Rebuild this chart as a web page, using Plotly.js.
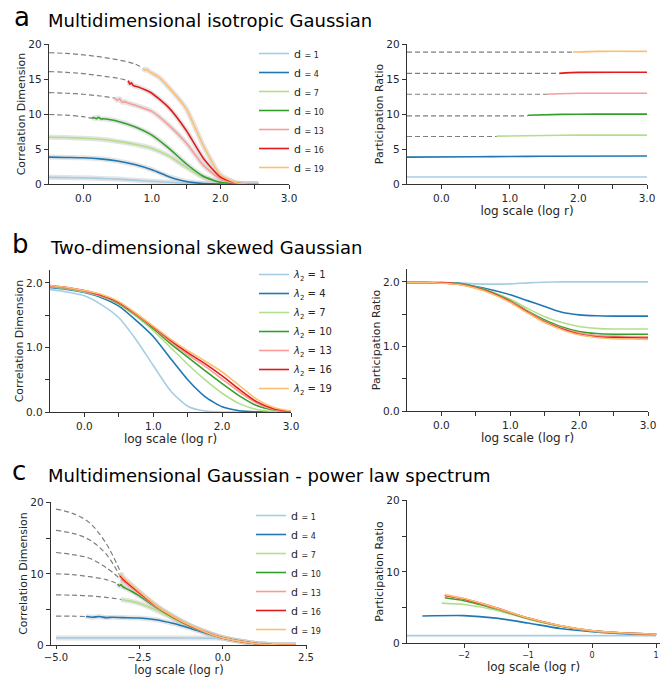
<!DOCTYPE html>
<html>
<head>
<meta charset="utf-8">
<script src="https://cdn.plot.ly/plotly-3.0.1.min.js"></script>
<style>html,body{margin:0;padding:0;background:#fff;}#chart{width:668px;height:677px;}</style>
</head>
<body>
<div id="chart"></div>
<script>
// ---------- DATA ----------
const dims = [1, 4, 7, 10, 13, 16, 19];
const lambdas = [1, 4, 7, 10, 13, 16, 19];

// Panel a (left): correlation dimension vs log r, isotropic Gaussian
const aCD_x = [
  [-0.5,-0.25,0,0.25,0.5,0.75,1.0,1.25,1.5,1.75,2.0,2.55],
  [-0.5,-0.25,0,0.25,0.5,0.75,1.0,1.25,1.5,1.75,2.0,2.55],
  [-0.5,-0.25,0,0.25,0.5,0.75,1.0,1.25,1.5,1.75,2.0,2.25,2.55],
  [0.12,0.16,0.19,0.22,0.26,0.3,0.4,0.5,0.75,1.0,1.25,1.5,1.75,2.0,2.25,2.55],
  [0.46,0.5,0.53,0.57,0.6,0.65,0.75,1.0,1.25,1.5,1.75,2.0,2.25,2.55],
  [0.655,0.68,0.7,0.73,0.76,0.8,0.9,1.0,1.25,1.5,1.75,2.0,2.25,2.55],
  [0.87,0.9,0.93,0.96,1.0,1.1,1.25,1.5,1.75,2.0,2.25,2.55]
];
const aCD_y = [
  [0.95,0.92,0.88,0.8,0.7,0.55,0.4,0.24,0.1,0.03,0.01,0],
  [3.85,3.8,3.75,3.6,3.3,2.8,2.05,1.05,0.35,0.07,0.01,0],
  [6.7,6.65,6.55,6.4,6.1,5.7,5.1,4.0,2.4,0.95,0.25,0.03,0],
  [9.4,9.5,9.35,9.55,9.3,9.35,9.2,9.0,8.2,7.0,5.1,2.9,1.1,0.25,0.03,0],
  [12.3,12.0,12.2,11.7,11.8,11.6,11.3,10.4,8.4,5.9,2.7,0.7,0.08,0],
  [14.8,14.3,14.5,14.1,14.0,13.9,13.5,13.0,10.9,7.7,3.7,1.0,0.1,0],
  [16.6,16.3,16.4,16.1,15.9,15.3,13.8,10.8,5.5,1.3,0.12,0]
];
// Panel a (left): dashed extrapolations (d = 10, 13, 16, 19)
const aExt_x = [
  [-0.5,-0.25,0,0.12],
  [-0.5,-0.25,0,0.25,0.46],
  [-0.5,-0.25,0,0.25,0.5,0.655],
  [-0.5,-0.25,0,0.25,0.5,0.75,0.87]
];
const aExt_y = [
  [9.95,9.85,9.65,9.4],
  [13.1,13.0,12.85,12.6,12.3],
  [16.1,16.0,15.8,15.5,15.15,14.8],
  [18.8,18.7,18.5,18.2,17.8,17.2,16.6]
];

// Panel a (right): participation ratio
const aPR_x = [
  [-0.5,3.0],
  [-0.5,0.5,1.0,1.5,3.0],
  [0.81,1.5,2.0,3.0],
  [1.26,1.75,2.25,3.0],
  [1.55,2.0,3.0],
  [1.72,2.0,3.0],
  [1.92,2.3,3.0]
];
const aPR_y = [
  [1.0,1.0],
  [3.85,3.9,3.93,3.98,4.0],
  [6.85,6.95,7.0,7.0],
  [9.85,9.97,10.0,10.0],
  [12.88,13.0,13.0],
  [15.85,15.98,16.0],
  [18.9,19.0,19.0]
];
// dashed extensions for d = 7..19
const aPRExt_x = [[-0.5,0.81],[-0.5,1.26],[-0.5,1.55],[-0.5,1.72],[-0.5,1.92]];
const aPRExt_y = [[6.8,6.8],[9.75,9.75],[12.85,12.85],[15.85,15.85],[18.9,18.9]];

// Panel b: two-dimensional skewed Gaussian
const bX = [-0.5,-0.25,0,0.25,0.5,0.75,1.0,1.25,1.5,1.75,2.0,2.25,2.5,2.75,3.0];
const bCD_y = [
  [1.9,1.86,1.8,1.66,1.46,1.12,0.72,0.33,0.09,0.015,0,0,0,0,0],
  [1.93,1.9,1.85,1.77,1.64,1.42,1.17,0.83,0.5,0.24,0.08,0.02,0.003,0,0],
  [1.94,1.91,1.86,1.79,1.67,1.48,1.26,1.0,0.74,0.5,0.29,0.13,0.04,0.01,0],
  [1.95,1.92,1.87,1.8,1.68,1.5,1.29,1.06,0.85,0.64,0.44,0.25,0.1,0.03,0.005],
  [1.95,1.92,1.87,1.8,1.69,1.51,1.31,1.09,0.89,0.71,0.51,0.31,0.14,0.04,0.01],
  [1.96,1.93,1.88,1.81,1.7,1.52,1.32,1.11,0.92,0.75,0.56,0.35,0.16,0.05,0.01],
  [1.96,1.93,1.88,1.82,1.71,1.53,1.33,1.13,0.95,0.79,0.62,0.41,0.2,0.07,0.015]
];
const bPR_y = [
  [1.99,1.99,1.99,1.985,1.97,1.965,1.97,1.985,1.995,2.0,2.0,2.0,2.0,2.0,2.0],
  [1.99,1.99,1.99,1.98,1.93,1.87,1.8,1.71,1.62,1.53,1.49,1.475,1.47,1.47,1.47],
  [1.99,1.99,1.985,1.97,1.92,1.84,1.73,1.59,1.46,1.37,1.31,1.28,1.27,1.27,1.27],
  [1.99,1.99,1.985,1.97,1.92,1.83,1.71,1.55,1.41,1.3,1.23,1.2,1.19,1.19,1.19],
  [1.99,1.99,1.985,1.965,1.91,1.82,1.7,1.54,1.39,1.28,1.21,1.17,1.16,1.155,1.15],
  [1.99,1.99,1.985,1.965,1.91,1.82,1.69,1.53,1.38,1.27,1.19,1.15,1.14,1.135,1.13],
  [1.99,1.99,1.98,1.96,1.9,1.81,1.68,1.52,1.37,1.26,1.18,1.14,1.12,1.115,1.11]
];

// Panel c (left): power-law spectrum, correlation dimension
const cTailX = [-0.5,0,0.5,1.0,1.5,2.2];
const cCD_x = [
  [-5,-4,-3,-2,-1],
  [-4.1,-3.9,-3.7,-3.5,-3.3,-3.0,-2.5,-2.0,-1.5,-1.0],
  [-3.05,-2.8,-2.5,-2.0,-1.5,-1.0],
  [-3.15,-3.1,-3.05,-3.0,-2.75,-2.5,-2.0,-1.5,-1.0],
  [-3.05,-3.0,-2.75,-2.5,-2.0,-1.5,-1.0],
  [-3.08,-3.0,-2.75,-2.5,-2.0,-1.5,-1.0],
  [-3.05,-3.0,-2.75,-2.5,-2.0,-1.5,-1.0]
];
const cCD_y = [
  [1.0,1.0,1.0,1.0,0.99],
  [4.0,3.9,4.0,3.85,3.9,3.85,3.8,3.55,3.05,2.4],
  [6.4,6.2,5.85,4.9,3.75,2.65],
  [8.6,8.3,8.5,8.2,7.6,6.9,5.3,3.9,2.7],
  [9.2,9.0,8.1,7.2,5.4,4.0,2.75],
  [9.7,9.3,8.3,7.35,5.5,4.0,2.75],
  [10.1,9.6,8.5,7.5,5.55,4.05,2.8]
];
const cTail_y = [
  [0.97,0.93,0.6,0.2,0.04,0],
  [1.65,1.0,0.55,0.2,0.04,0],
  [1.75,1.0,0.55,0.2,0.04,0],
  [1.75,1.0,0.55,0.2,0.04,0],
  [1.8,1.0,0.55,0.2,0.04,0],
  [1.8,1.0,0.55,0.2,0.04,0],
  [1.8,1.0,0.55,0.2,0.04,0]
];
// dashed extrapolations d = 4..19
const cExt_x = [
  [-5,-4.5,-4.1],
  [-5,-4.5,-4,-3.5,-3.05],
  [-5,-4.5,-4,-3.5,-3.15],
  [-5,-4.5,-4,-3.5,-3.05],
  [-5,-4.5,-4,-3.5,-3.08],
  [-5,-4.5,-4,-3.5,-3.05]
];
const cExt_y = [
  [4.05,4.05,4.0],
  [7.05,7.0,6.9,6.7,6.4],
  [10.0,9.9,9.6,9.2,8.6],
  [13.0,12.7,12.2,10.9,9.2],
  [16.1,15.7,14.8,12.8,9.7],
  [19.1,18.5,17.2,14.3,10.1]
];

// Panel c (right): participation ratio
const cPR_x = [
  [-2.89,1.0],
  [-2.65,-2.0,-1.5,-1.0,-0.5,0,0.5,1.0],
  [-2.35,-2.0,-1.5,-1.0,-0.5,0,0.5,1.0],
  [-2.3,-2.0,-1.5,-1.0,-0.5,0,0.5,1.0],
  [-2.3,-2.0,-1.5,-1.0,-0.5,0,0.5,1.0],
  [-2.3,-2.0,-1.5,-1.0,-0.5,0,0.5,1.0],
  [-2.3,-2.0,-1.5,-1.0,-0.5,0,0.5,1.0]
];
const cPR_y = [
  [1.03,1.03],
  [3.8,3.85,3.5,2.8,2.05,1.6,1.3,1.2],
  [5.6,5.4,4.6,3.35,2.35,1.7,1.4,1.25],
  [6.35,5.95,4.8,3.45,2.4,1.72,1.4,1.25],
  [6.6,6.15,4.9,3.5,2.42,1.73,1.4,1.25],
  [6.7,6.2,4.95,3.5,2.43,1.73,1.4,1.25],
  [6.8,6.25,4.95,3.52,2.44,1.74,1.4,1.25]
];

// ---------- STYLE ----------
const colors = ['#a6cee3','#1f78b4','#b2df8a','#33a02c','#fb9a99','#e31a1c','#fdbf6f'];
const W = 668, H = 677;
const FONT = 'DejaVu Sans, sans-serif';
const TXT = '#262626';
const dashStyle = {color: '#7f7f7f', width: 1.2, dash: '5px,3px'};
const bandStyle = {color: 'rgba(205,205,205,0.55)', width: 5};

const traces = [];
function line(x, y, xa, ya, color, opts) {
  opts = opts || {};
  traces.push(Object.assign({
    type: 'scatter', mode: 'lines', x: x, y: y, xaxis: xa, yaxis: ya,
    line: {color: color, width: 1.6, shape: 'spline', smoothing: 0.6},
    showlegend: false, hoverinfo: 'skip'
  }, opts));
}
const dName = d => 'd <span style="font-size:8px">= ' + d + '</span>';
const lName = l => '<i>λ</i><sub>2</sub> = ' + l;

// Panel a left
aExt_x.forEach((x, i) => line(x, aExt_y[i], 'x', 'y', '#7f7f7f', {line: Object.assign({shape:'spline'}, dashStyle)}));
aCD_x.forEach((x, i) => line(x, aCD_y[i], 'x', 'y', '', {line: Object.assign({shape:'spline', smoothing:0.6}, bandStyle)}));
aCD_x.forEach((x, i) => line(x, aCD_y[i], 'x', 'y', colors[i], {name: dName(dims[i]), showlegend: true, legend: 'legend'}));
// Panel a right
aPRExt_x.forEach((x, i) => line(x, aPRExt_y[i], 'x2', 'y2', '#7f7f7f', {line: dashStyle}));
aPR_x.forEach((x, i) => line(x, aPR_y[i], 'x2', 'y2', colors[i]));
// Panel b
bCD_y.forEach((y, i) => line(bX, y, 'x3', 'y3', colors[i], {name: lName(lambdas[i]), showlegend: true, legend: 'legend2'}));
bPR_y.forEach((y, i) => line(bX, y, 'x4', 'y4', colors[i]));
// Panel c left
cExt_x.forEach((x, i) => line(x, cExt_y[i], 'x5', 'y5', '#7f7f7f', {line: Object.assign({shape:'spline'}, dashStyle)}));
cCD_x.forEach((x, i) => line(x.concat(cTailX), cCD_y[i].concat(cTail_y[i]), 'x5', 'y5', '', {line: Object.assign({shape:'spline', smoothing:0.6}, bandStyle)}));
cCD_x.forEach((x, i) => line(x.concat(cTailX), cCD_y[i].concat(cTail_y[i]), 'x5', 'y5', colors[i], {name: dName(dims[i]), showlegend: true, legend: 'legend3'}));
// Panel c right
cPR_x.forEach((x, i) => line(x, cPR_y[i], 'x6', 'y6', colors[i]));

// ---------- LAYOUT ----------
const dx = (a, b) => [a / W, b / W];
const dy = (top, bottom) => [1 - bottom / H, 1 - top / H];
const yTitle = (t) => ({text: t, font: {family: FONT, size: 11, color: TXT}, standoff: 0});
const xTitle = (s, f) => ({text: 'log scale (log r)', font: {family: FONT, size: f || 12, color: TXT}, standoff: s});
function ax(domain, range, anchor, tickvals, ticktext, minorvals, extra) {
  return Object.assign({
    domain: domain, range: range, anchor: anchor, tickmode: 'array', tickvals: tickvals, ticktext: ticktext,
    minor: minorvals ? {tickmode: 'array', tickvals: minorvals, ticks: 'outside', ticklen: 4, tickwidth: 1, tickcolor: '#333', showgrid: false} : undefined,
    showline: true, linecolor: '#333', linewidth: 1.3, ticks: 'outside', ticklen: 4,
    tickwidth: 1, tickcolor: '#333', showgrid: false, zeroline: false,
    tickfont: {family: FONT, size: 10.5, color: TXT},
    fixedrange: true
  }, extra || {});
}
const xTV = [0, 1, 2, 3], xTT = ['0.0', '1.0', '2.0', '3.0'], xMinor = [0.5, 1.5, 2.5];

const layout = {
  width: W, height: H, margin: {l: 0, r: 0, t: 0, b: 0},
  paper_bgcolor: '#fff', plot_bgcolor: 'rgba(0,0,0,0)',
  font: {family: FONT, color: TXT},
  xaxis: ax(dx(49, 289), [-0.5, 3], 'y', xTV, xTT, xMinor),
  yaxis: ax(dy(44, 184), [0, 20.05], 'x', [0, 5, 10, 15, 20], ['0', '5', '10', '15', '20'], null, {title: yTitle('Correlation Dimension')}),
  xaxis2: ax(dx(407, 647), [-0.5, 3], 'y2', xTV, xTT, xMinor, {title: xTitle(0)}),
  yaxis2: ax(dy(44, 184), [0, 20.05], 'x2', [0, 5, 10, 15, 20], ['0', '5', '10', '15', '20'], null, {title: yTitle('Participation Ratio')}),
  xaxis3: ax(dx(50, 291), [-0.5, 3], 'y3', xTV, xTT, xMinor, {title: xTitle(2)}),
  yaxis3: ax(dy(270, 412), [0, 2.2], 'x3', [0, 1, 2], ['0.0', '1.0', '2.0'], [0.5, 1.5], {title: yTitle('Correlation Dimension')}),
  xaxis4: ax(dx(407, 648), [-0.5, 3], 'y4', xTV, xTT, xMinor, {title: xTitle(2)}),
  yaxis4: ax(dy(269, 411), [0, 2.2], 'x4', [0, 1, 2], ['0.0', '1.0', '2.0'], [0.5, 1.5], {title: yTitle('Participation Ratio')}),
  xaxis5: ax(dx(51, 307), [-5.15, 2.53], 'y5', [-5, -2.5, 0, 2.5], ['−5.0', '−2.5', '0.0', '2.5'], null,
            {title: xTitle(0, 11.5), ticklen: 3, tickfont: {family: FONT, size: 10, color: TXT}}),
  yaxis5: ax(dy(502, 645), [0, 20.1], 'x5', [0, 10, 20], ['0', '10', '20'], [5, 15], {title: yTitle('Correlation Dimension')}),
  xaxis6: ax(dx(407, 660), [-2.89, 1.06], 'y6', [-2, -1, 0, 1], ['−2', '−1', '0', '1'], null,
            {title: xTitle(2), tickfont: {family: FONT, size: 8, color: TXT}}),
  yaxis6: ax(dy(500, 643), [0, 20.1], 'x6', [0, 10, 20], ['0', '10', '20'], [5, 15], {title: yTitle('Participation Ratio')}),
  legend: {x: 254 / W, y: 1 - 39 / H, xanchor: 'left', yanchor: 'top', bgcolor: 'rgba(0,0,0,0)',
           font: {family: FONT, size: 11, color: TXT}, itemwidth: 30, tracegroupgap: 0},
  legend2: {x: 254 / W, y: 1 - 260 / H, xanchor: 'left', yanchor: 'top', bgcolor: 'rgba(0,0,0,0)',
           font: {family: FONT, size: 10, color: TXT}, itemwidth: 30, tracegroupgap: 0},
  legend3: {x: 251 / W, y: 1 - 501 / H, xanchor: 'left', yanchor: 'top', bgcolor: 'rgba(0,0,0,0)',
           font: {family: FONT, size: 11, color: TXT}, itemwidth: 30, tracegroupgap: 0},
  annotations: [
    {text: 'a', x: 22 / W, y: 1 - 17 / H, xref: 'paper', yref: 'paper', xanchor: 'center', yanchor: 'middle', showarrow: false, font: {family: FONT, size: 26, color: '#000'}},
    {text: 'Multidimensional isotropic Gaussian', x: 46 / W, y: 1 - 21 / H, xref: 'paper', yref: 'paper', xanchor: 'left', yanchor: 'middle', showarrow: false, font: {family: FONT, size: 18, color: '#000'}},
    {text: 'b', x: 20 / W, y: 1 - 244 / H, xref: 'paper', yref: 'paper', xanchor: 'center', yanchor: 'middle', showarrow: false, font: {family: FONT, size: 26, color: '#000'}},
    {text: 'Two-dimensional skewed Gaussian', x: 48 / W, y: 1 - 247 / H, xref: 'paper', yref: 'paper', xanchor: 'left', yanchor: 'middle', showarrow: false, font: {family: FONT, size: 18, color: '#000'}},
    {text: 'c', x: 19 / W, y: 1 - 471 / H, xref: 'paper', yref: 'paper', xanchor: 'center', yanchor: 'middle', showarrow: false, font: {family: FONT, size: 26, color: '#000'}},
    {text: 'Multidimensional Gaussian - power law spectrum', x: 46 / W, y: 1 - 475 / H, xref: 'paper', yref: 'paper', xanchor: 'left', yanchor: 'middle', showarrow: false, font: {family: FONT, size: 18, color: '#000'}}
  ]
};

Plotly.newPlot('chart', traces, layout, {staticPlot: true});
</script>
</body>
</html>
